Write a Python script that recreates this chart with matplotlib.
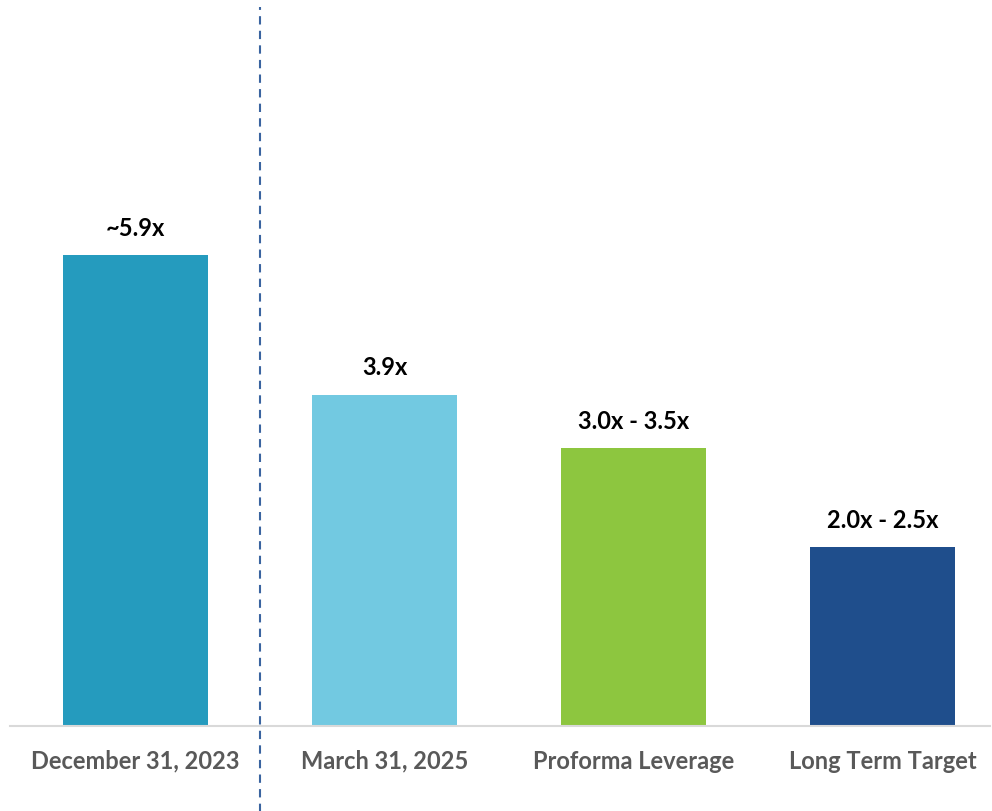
import matplotlib.pyplot as plt
import matplotlib.transforms as mtransforms

categories = ["December 31, 2023", "March 31, 2025", "Proforma Leverage", "Long Term Target"]
bar_heights = [5.9, 4.15, 3.48, 2.24]
value_labels = ["~5.9x", "3.9x", "3.0x - 3.5x", "2.0x - 2.5x"]
colors = ["#259BBE", "#72C9E1", "#8DC63F", "#1F4E8C"]

plt.rcParams["font.family"] = ["Lato", "DejaVu Sans"]

fig = plt.figure(figsize=(9.92, 8.11), dpi=100)
ax = fig.add_axes([10 / 992, 85 / 811, 980 / 992, 716 / 811])

x = list(range(len(categories)))
bars = ax.bar(x, bar_heights, width=0.582, color=colors, zorder=2)

ax.set_xlim(-0.504, 3.43)
ax.set_ylim(0, 8.97)

for rect, label in zip(bars, value_labels):
    ax.annotate(
        label,
        (rect.get_x() + rect.get_width() / 2, rect.get_height()),
        xytext=(0, 11),
        textcoords="offset points",
        ha="center",
        va="bottom",
        fontsize=17,
        fontweight="bold",
        color="black",
    )

ax.set_xticks(x)
ax.set_xticklabels(categories, fontsize=17, fontweight="bold", color="#595959")
ax.tick_params(axis="x", length=0, pad=17)
ax.set_yticks([])

for side in ["top", "right", "left"]:
    ax.spines[side].set_visible(False)
ax.spines["bottom"].set_color("#D9D9D9")
ax.spines["bottom"].set_linewidth(1.5)

# dashed divider between the historical and forward-looking bars
trans = mtransforms.blended_transform_factory(ax.transData, ax.transAxes)
ax.plot(
    [0.5, 0.5],
    [-0.125, 1.004],
    transform=trans,
    clip_on=False,
    color="#3A64A0",
    linestyle=(0, (4, 3)),
    linewidth=1.5,
    zorder=3,
)

fig.savefig("out.png", dpi=100)
